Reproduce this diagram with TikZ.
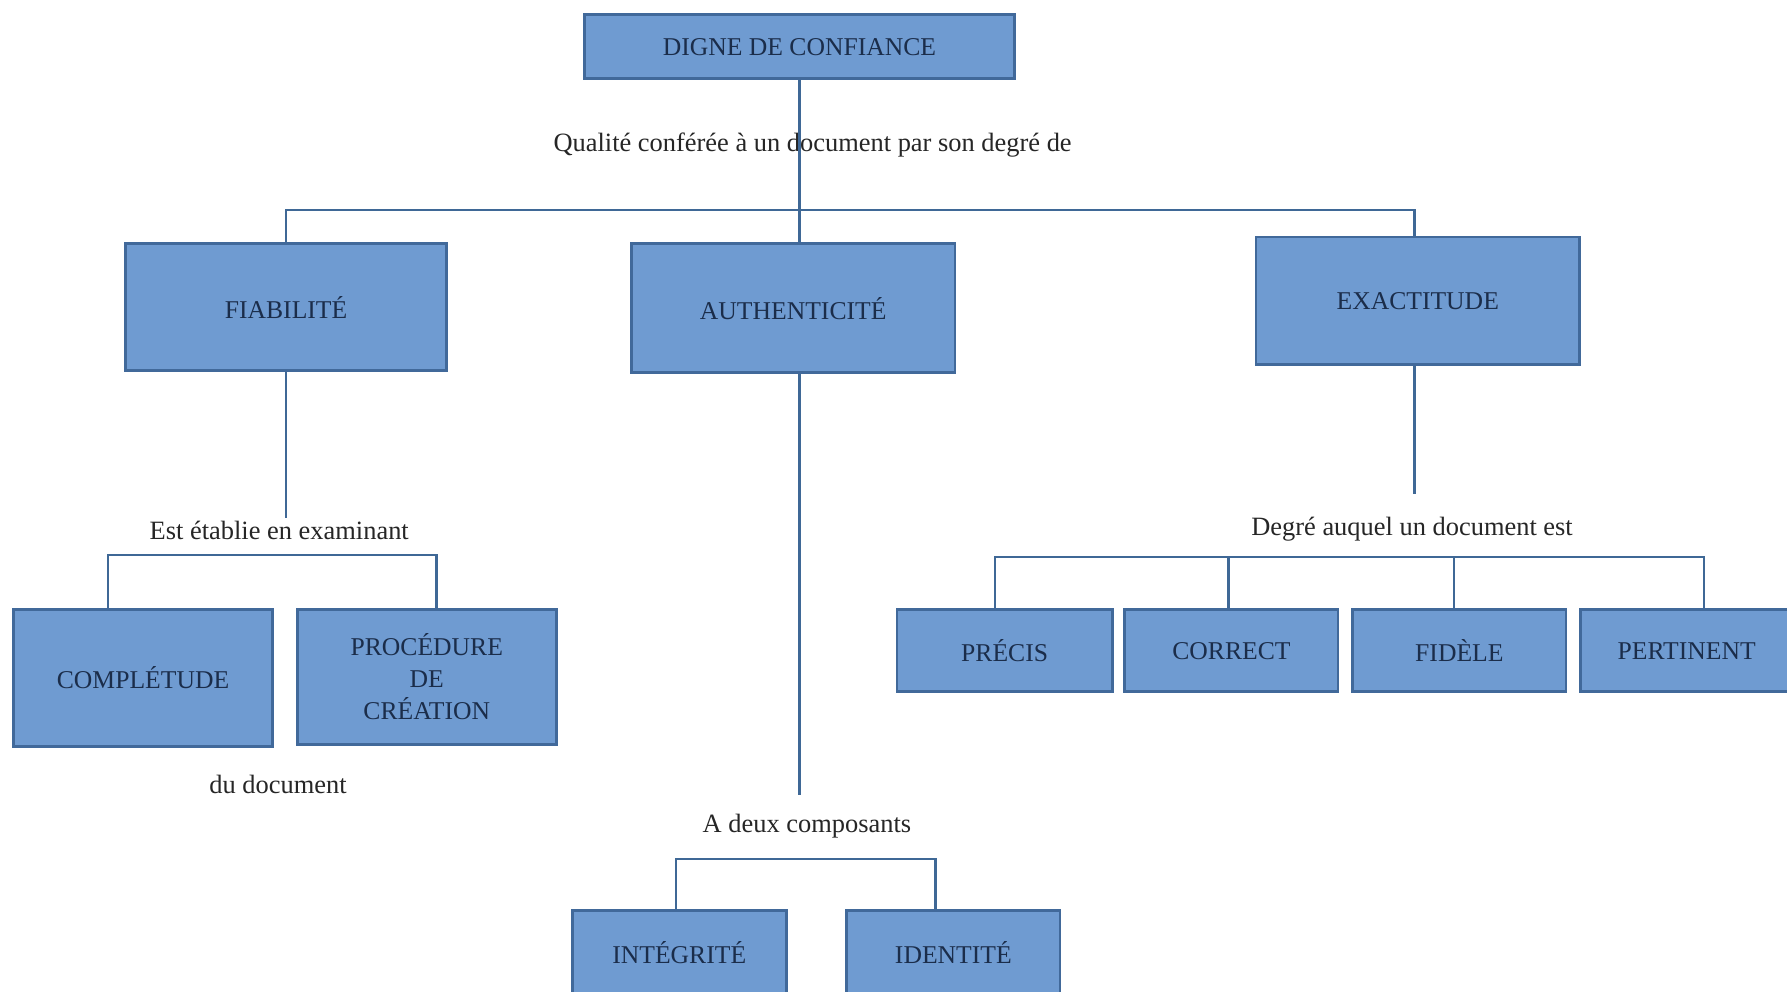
\documentclass[tikz,border=0pt]{standalone}
\usepackage{fontspec}
\setmainfont{Liberation Serif}
\usetikzlibrary{positioning,calc}
\definecolor{boxfill}{HTML}{6F9BD1}
\definecolor{boxline}{HTML}{41699A}
\definecolor{boxtext}{HTML}{1B2D4A}
\definecolor{linkcol}{HTML}{3F6896}

\begin{document}
\begin{tikzpicture}[x=0.02cm,y=-0.02cm,
  box/.style={draw=boxline,line width=1.4pt,fill=boxfill,text=boxtext,align=center,inner sep=0pt,font=\fontsize{12.8}{16}\selectfont},
  sz/.style 2 args={minimum width=#1*0.02cm,minimum height=#2*0.02cm},
  lbl/.style={inner sep=1pt,text=black!85,font=\fontsize{13.2}{16}\selectfont},
  link/.style={draw=linkcol,line width=1.2pt}]
\useasboundingbox (0,0) rectangle (1568,870);
\clip (0,0) rectangle (1568,870);
\fill[white] (0,0) rectangle (1568,870);
% top
\node[box,sz={377}{56}] (digne) at (701.5,41) {DIGNE DE CONFIANCE};
\node[lbl] (qual) at (713,127) {Qualité conférée à un document par son degré de};
\coordinate (split) at (701,184);
% second row
\node[box,sz={282}{111}] (fiab) at (251,269.5) {FIABILITÉ};
\node[box,sz={284}{113}] (auth) at (696,270.5) {AUTHENTICITÉ};
\node[box,sz={284}{112}] (exact) at (1244,264) {EXACTITUDE};
\draw[link] (digne.south) -- (digne.south |- auth.north);
\draw[link] (fiab.north) |- (split) -| ([xshift=-0.06cm]exact.north);
% fiabilite
\node[lbl] (examin) at (245,465) {Est établie en examinant};
\node[box,sz={227}{120}] (compl) at (125.5,595) {COMPLÉTUDE};
\node[box,sz={227}{118}] (proc) at (374.5,594) {PROCÉDURE\\DE\\CRÉATION};
\node[lbl] (dudoc) at (244,688) {du document};
\draw[link] (fiab.south) -- (fiab.south |- examin.north);
\draw[link] ([xshift=-0.61cm]compl.north) -- ++(0,-47) -| ([xshift=0.17cm]proc.north);
% authenticite
\node[lbl] (deux) at (708,725) {A deux composants};
\node[box,sz={188}{74}] (intg) at (596,836) {INTÉGRITÉ};
\node[box,sz={187}{74}] (ident) at (836.5,836) {IDENTITÉ};
\draw[link] (digne.south |- auth.south) -- ([yshift=0.3cm]digne.south |- deux.north);
\draw[link] ([xshift=-0.06cm]intg.north) -- ++(0,-44) -| ([xshift=-0.31cm]ident.north);
% exactitude
\node[lbl] (degre) at (1239,464) {Degré auquel un document est};
\node[box,sz={189}{72}] (precis) at (881.5,571) {PRÉCIS};
\node[box,sz={187}{72}] (correct) at (1080.5,571) {CORRECT};
\node[box,sz={187}{72}] (fidele) at (1280.5,571) {FIDÈLE};
\node[box,sz={186}{72}] (pert) at (1480,571) {PERTINENT};
\draw[link] ([xshift=-0.06cm]exact.south) -- ([xshift=-0.06cm,yshift=0.36cm]exact.south |- degre.north);
\draw[link] ([xshift=-0.17cm]precis.north) -- ++(0,-45) -| ([xshift=0.3cm]pert.north);
\draw[link] ([xshift=-0.05cm]correct.north) -- ++(0,-45);
\draw[link] ([xshift=-0.09cm]fidele.north) -- ++(0,-45);
\end{tikzpicture}
\end{document}
